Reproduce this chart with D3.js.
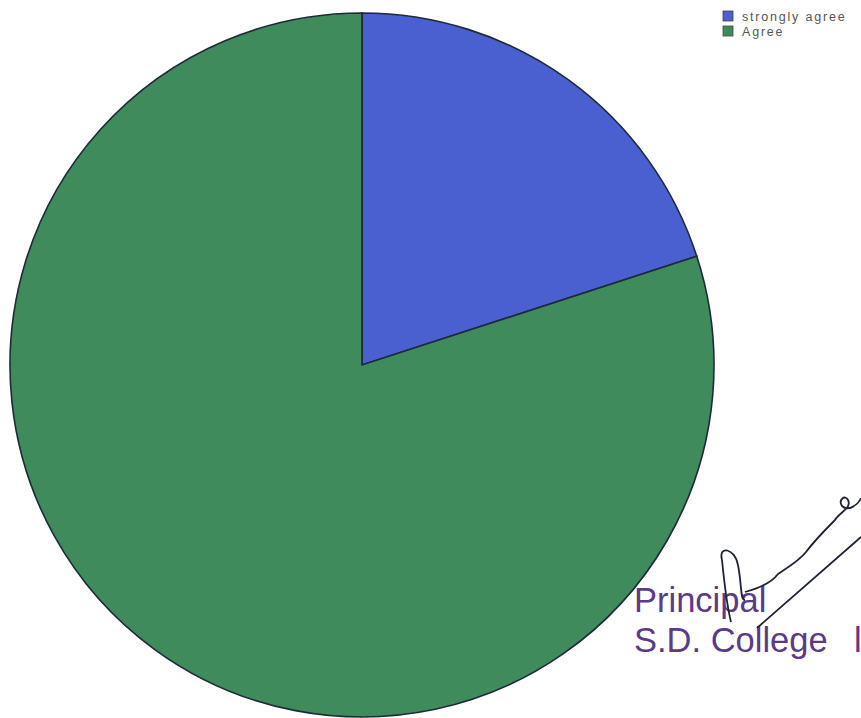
<!DOCTYPE html>
<html><head><meta charset="utf-8">
<script src="https://cdn.jsdelivr.net/npm/d3@7"></script>
<style>body{margin:0;background:#fff}svg{display:block}</style>
</head><body>
<script>
const categories = ["strongly agree", "Agree"];
const values = [20, 80];
const colors = ["#4a60d0", "#3f8b5b"];

const W = 861, H = 718;
const svg = d3.select("body").append("svg").attr("width", W).attr("height", H);

const cx = 362, cy = 365, r = 352;
const pie = d3.pie().sort(null).value(d => d.v);
const arcs = pie(categories.map((c, i) => ({c, v: values[i]})));
const arc = d3.arc().innerRadius(0).outerRadius(r);
const color = d3.scaleOrdinal().domain(categories).range(colors);

svg.append("g").attr("transform", `translate(${cx},${cy})`)
  .selectAll("path").data(arcs).join("path")
  .attr("d", arc)
  .attr("fill", d => color(d.data.c))
  .attr("stroke", "#1d2a3a").attr("stroke-width", 1.6);

const lg = svg.append("g").attr("transform", "translate(723,11)");
categories.forEach((c, i) => {
  lg.append("rect").attr("x", 0).attr("y", i * 15).attr("width", 10).attr("height", 10)
    .attr("fill", colors[i]).attr("stroke", "#444").attr("stroke-width", 0.8);
  lg.append("text").attr("x", 19).attr("y", i * 15 + 9.5)
    .attr("font-family", "Liberation Sans, Arial, sans-serif").attr("font-size", 12.5)
    .attr("letter-spacing", 1.8)
    .attr("fill", "#555").text(c);
});

// stamp text
const stamp = svg.append("g").attr("font-family", "Liberation Sans, Arial, sans-serif")
  .attr("font-size", 34.5).attr("fill", "#5b3a86");
stamp.append("text").attr("x", 634).attr("y", 612).text("Principal");
stamp.append("text").attr("x", 634).attr("y", 652).text("S.D. College");
stamp.append("text").attr("x", 854).attr("y", 652).text("l");
// signature strokes
svg.append("path")
  .attr("d", "M 757 628 L 861 537 " +
             "M 722 560 C 718 545 735 548 738 565 C 742 585 740 600 745 600 " +
             "M 722 560 C 725 590 728 610 731 622 " +
             "M 745 592 C 760 588 772 582 778 574 C 790 566 800 560 806 552 C 815 540 825 530 835 520 C 840 512 852 508 848 500 C 845 494 838 500 842 506 C 848 512 858 505 861 498")
  .attr("fill", "none").attr("stroke", "#1e2233").attr("stroke-width", 1.8);
</script>
</body></html>
